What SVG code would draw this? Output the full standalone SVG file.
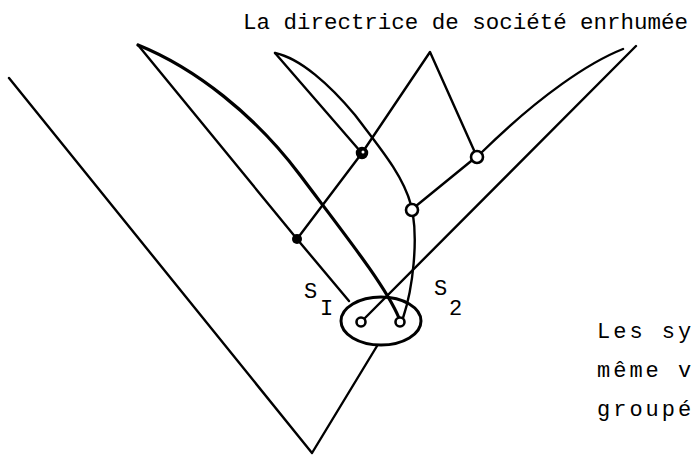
<svg xmlns="http://www.w3.org/2000/svg" width="695" height="456" viewBox="0 0 695 456">
<style>
.ln{fill:none;stroke:#000;stroke-width:2.4;stroke-linecap:round;stroke-linejoin:round}
.thick{stroke-width:3.2}
.t{font-family:"Liberation Mono","DejaVu Sans Mono",monospace;font-size:22px;fill:#000}
.oc{fill:#fff;stroke:#000;stroke-width:2.6}
</style>
<rect width="695" height="456" fill="#fff"/>
<g id="connectors">
<polyline class="ln" points="9,78 312,453 377,346"/>
<polyline class="ln" points="138,45 297,239 349,301"/>
<path class="ln thick" d="M138,45 C195,68 255,115 300,175 C345,235 385,285 399,318"/>
<polyline class="ln" points="297,239 362,153 430,52 477,157"/>
<line class="ln" x1="275" y1="53" x2="360" y2="151"/>
<path class="ln" d="M275,53 C300,58 330,85 355,115 C380,148 403,175 411,205"/>
<path class="ln" d="M413,215 C417,240 414,285 403,318"/>
<path class="ln" d="M623,49 C590,62 540,95 481,153 L416,206"/>
<line class="ln" x1="636" y1="46" x2="362" y2="321"/>
</g>
<g id="title"><text class="t" x="243" y="29" textLength="445" lengthAdjust="spacingAndGlyphs">La directrice de société enrhumée</text></g>
<g id="n1"><circle cx="297" cy="239" r="5" fill="#000"/></g>
<g id="n2"><circle cx="362" cy="153" r="5.5" fill="#000" stroke="#000" stroke-width="1.5"/><circle cx="363" cy="152" r="1.5" fill="#fff"/></g>
<g id="n3"><circle class="oc" cx="477" cy="157" r="6"/></g>
<g id="n4"><circle class="oc" cx="412" cy="210" r="6"/></g>
<g id="group">
<ellipse cx="381" cy="321" rx="40" ry="24" fill="none" stroke="#000" stroke-width="3"/>
<circle class="oc" cx="361" cy="322" r="4.5" stroke-width="3"/>
<circle class="oc" cx="400" cy="322" r="4.5" stroke-width="3"/>
</g>
<g id="labels">
<text class="t" x="304" y="298">S</text><text class="t" x="320" y="315">I</text>
<text class="t" x="434" y="295">S</text><text class="t" x="449" y="315">2</text>
</g>
<g id="note">
<text class="t" x="597" y="338" letter-spacing="3">Les sy</text>
<text class="t" x="597" y="377" letter-spacing="3">même v</text>
<text class="t" x="597" y="416" letter-spacing="3">groupé</text>
</g>
</svg>
